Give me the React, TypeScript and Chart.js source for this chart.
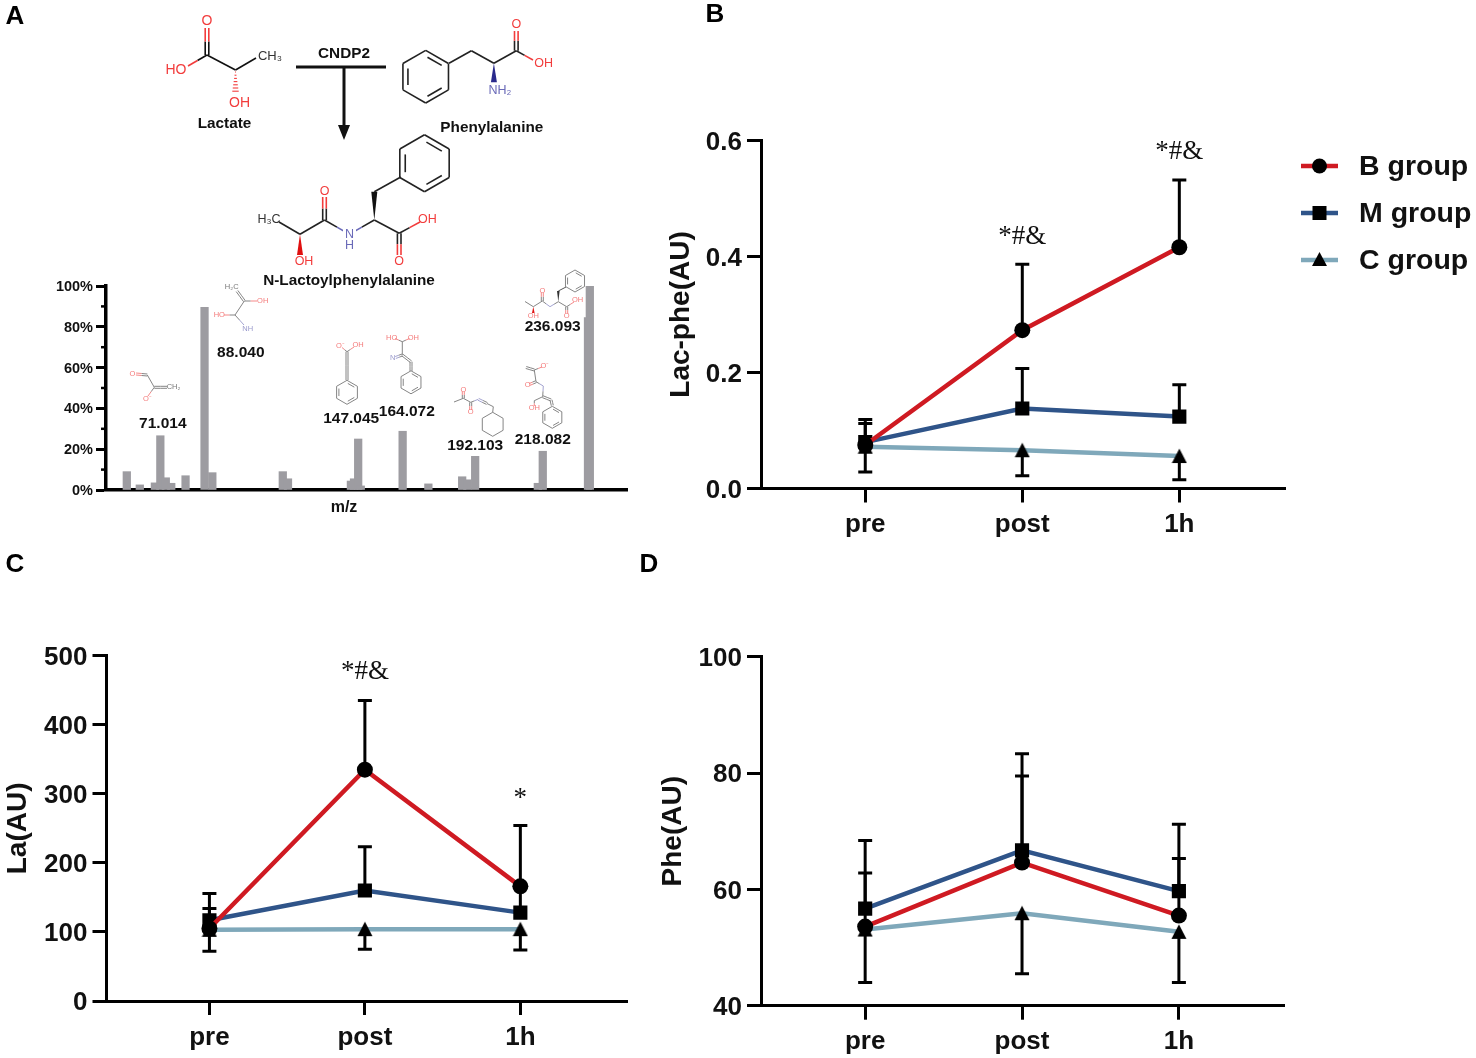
import React, { useEffect, useRef } from "react";
import { Chart, registerables } from "chart.js";

Chart.register(...registerables);

const SANS = '"Liberation Sans", Arial, sans-serif';
const SERIF = '"Liberation Serif", "Times New Roman", serif';

// ---- panel A data ----
const spectrumMz = [58.2, 63.2, 69.0, 71.1, 73.2, 75.3, 80.8, 88.1, 91.1, 118.2, 120.2, 144.4, 145.6, 147.2, 148.2, 164.3, 174.2, 187.2, 189.2, 192.2, 216.3, 218.2, 235.6, 236.3];
const spectrumPct = [9, 2.5, 3.5, 26.6, 6, 3.3, 7, 89.5, 8.5, 9, 5.5, 4.4, 5.5, 25, 2, 28.8, 3, 6.5, 5, 16.5, 3.3, 19, 84.5, 100];
const peakLabels = ["71.014", "88.040", "147.045", "164.072", "192.103", "218.082", "236.093"];
const peakLabelMz = [72.05, 102.05, 144.5, 165.9, 192.2, 218.2, 222.0];
const peakLabelPct = [32.5, 67.2, 34.8, 38.4, 21.7, 24.7, 79.9];

// ---- line panels data ----
const timepoints = ["pre", "post", "1h"];
const groupNames = ["B group", "M group", "C group"];
const groupColors = ["#cf1a22", "#2f5489", "#7fa8ba"];

const lacPheB = [0.075, 0.273, 0.416];
const lacPheM = [0.08, 0.138, 0.124];
const lacPheC = [0.072, 0.066, 0.056];
const lacPheBEnd = [0.119, 0.3865, 0.532];
const lacPheMEnd = [0.112, 0.207, 0.179];
const lacPheCEnd = [0.0285, 0.022, 0.015];

const laB = [105, 335, 166];
const laM = [117, 160, 128];
const laC = [103, 104, 104];
const laBEnd = [134, 435, 254];
const laMEnd = [155.5, 223.5, 166];
const laCEnd = [72, 75, 74];

const pheB = [53.6, 64.6, 55.5];
const pheM = [56.7, 66.7, 59.7];
const pheC = [53.1, 55.9, 52.7];
const pheBEnd = [62.8, 79.5, 65.3];
const pheMEnd = [68.4, 83.3, 71.2];
const pheCEnd = [44, 45.5, 44];

type Ctx = CanvasRenderingContext2D;
type P = [number, number];
const BLACK = "#111";
const RED = "#f23c3c";
const BLUE = "#6a6ab8";
const LABEL = `bold 15.3px ${SANS}`;

function seg(c: Ctx, a: P, b: P, color = BLACK, w = 1.6) {
  c.strokeStyle = color;
  c.lineWidth = w;
  c.beginPath();
  c.moveTo(a[0], a[1]);
  c.lineTo(b[0], b[1]);
  c.stroke();
}
function bi(c: Ctx, a: P, b: P, colA: string, colB: string, w = 1.6) {
  const m: P = [(a[0] + b[0]) / 2, (a[1] + b[1]) / 2];
  seg(c, a, m, colA, w);
  seg(c, m, b, colB, w);
}
function dbl(c: Ctx, a: P, b: P, colA: string, colB: string, w = 1.6, off = 1.8) {
  const dx = b[0] - a[0];
  const dy = b[1] - a[1];
  const l = Math.hypot(dx, dy) || 1;
  const nx = (-dy / l) * off;
  const ny = (dx / l) * off;
  bi(c, [a[0] + nx, a[1] + ny], [b[0] + nx, b[1] + ny], colA, colB, w);
  bi(c, [a[0] - nx, a[1] - ny], [b[0] - nx, b[1] - ny], colA, colB, w);
}
function txt(c: Ctx, s: string, x: number, y: number, color = BLACK, font = `13px ${SANS}`) {
  c.fillStyle = color;
  c.font = font;
  c.textAlign = "center";
  c.textBaseline = "middle";
  c.fillText(s, x, y);
}
function ring(c: Ctx, cx: number, cy: number, r: number, color = BLACK, w = 1.6, inner = 0.78) {
  const pts: P[] = [];
  for (let i = 0; i < 6; i++) {
    const a = -Math.PI / 2 + (i * Math.PI) / 3;
    pts.push([cx + r * Math.cos(a), cy + r * Math.sin(a)]);
  }
  for (let i = 0; i < 6; i++) seg(c, pts[i], pts[(i + 1) % 6], color, w);
  if (inner >= 1) return;
  [0, 2, 4].forEach((i) => {
    const a = pts[i];
    const b = pts[(i + 1) % 6];
    const sh = (p: P): P => [cx + (p[0] - cx) * inner, cy + (p[1] - cy) * inner];
    const s = sh(a);
    const e = sh(b);
    seg(c, [s[0] + (e[0] - s[0]) * 0.1, s[1] + (e[1] - s[1]) * 0.1], [e[0] - (e[0] - s[0]) * 0.1, e[1] - (e[1] - s[1]) * 0.1], color, w);
  });
}
function wedge(c: Ctx, a: P, b: P, color: string, half = 3) {
  const dx = b[0] - a[0];
  const dy = b[1] - a[1];
  const l = Math.hypot(dx, dy) || 1;
  const nx = (-dy / l) * half;
  const ny = (dx / l) * half;
  c.fillStyle = color;
  c.beginPath();
  c.moveTo(a[0], a[1]);
  c.lineTo(b[0] + nx, b[1] + ny);
  c.lineTo(b[0] - nx, b[1] - ny);
  c.closePath();
  c.fill();
}

function drawStructures(c: Ctx) {
  // Lactate
  dbl(c, [207, 55], [207, 28], BLACK, RED);
  bi(c, [207, 55], [188, 66], BLACK, RED);
  seg(c, [207, 55], [235.5, 70]);
  seg(c, [235.5, 70], [256, 58]);
  for (let i = 0; i < 7; i++) {
    const y = 72 + i * 3.2;
    const h = 0.5 + i * 0.45;
    seg(c, [235.5 - h, y], [235.5 + h, y], RED, 1.1);
  }
  txt(c, "O", 207, 21, RED, `14px ${SANS}`);
  txt(c, "HO", 176, 70, RED, `14px ${SANS}`);
  txt(c, "CH₃", 270, 56, "#333", `13px ${SANS}`);
  txt(c, "OH", 239.6, 103, RED, `14px ${SANS}`);
  txt(c, "Lactate", 224.5, 124, BLACK, LABEL);

  // Reaction arrow
  txt(c, "CNDP2", 344, 54, BLACK, LABEL);
  seg(c, [296, 67], [386, 67], BLACK, 3);
  seg(c, [344, 67], [344, 127], BLACK, 3);
  c.fillStyle = BLACK;
  c.beginPath();
  c.moveTo(338, 125);
  c.lineTo(350, 125);
  c.lineTo(344, 140);
  c.closePath();
  c.fill();

  // Phenylalanine
  ring(c, 425.7, 76.7, 26.3, "#222");
  seg(c, [449, 63.3], [471.4, 50.7], "#222");
  seg(c, [471.4, 50.7], [493.9, 63.3], "#222");
  seg(c, [493.9, 63.3], [516.3, 50.7], "#222");
  dbl(c, [516.3, 50.7], [516.3, 31], "#222", RED);
  bi(c, [516.3, 50.7], [533, 60], "#222", RED);
  wedge(c, [493.9, 63.3], [493.9, 82.3], "#2a2a8c", 3);
  txt(c, "O", 516.3, 25, RED, `12.5px ${SANS}`);
  txt(c, "OH", 543.7, 63.3, RED, `12.5px ${SANS}`);
  txt(c, "NH₂", 500, 91, BLUE, `12.5px ${SANS}`);
  txt(c, "Phenylalanine", 491.8, 128, BLACK, LABEL);

  // N-Lactoylphenylalanine
  ring(c, 424.5, 163.3, 28.5, "#222");
  seg(c, [400.8, 177], [374.3, 191.7], "#222");
  wedge(c, [374.3, 220], [374.3, 191.7], "#111", 3);
  bi(c, [374.3, 220], [349.4, 234.3], "#222", BLUE);
  bi(c, [349.4, 234.3], [324.5, 220], BLUE, "#222");
  seg(c, [374.3, 220], [399.2, 233.3], "#222");
  bi(c, [399.2, 233.3], [420, 222], "#222", RED);
  dbl(c, [399.2, 233.3], [399.2, 255], "#222", RED);
  dbl(c, [324.5, 220], [324.5, 197], "#222", RED);
  seg(c, [324.5, 220], [300, 234.3], "#222");
  seg(c, [300, 234.3], [279, 222], "#222");
  wedge(c, [300, 234.3], [300, 255], "#e01010", 3);
  c.fillStyle = "#fff";
  c.fillRect(343, 228, 13, 12);
  txt(c, "N", 349.4, 234.3, BLUE, `12.5px ${SANS}`);
  txt(c, "H", 349.4, 246, BLUE, `12.5px ${SANS}`);
  txt(c, "O", 324.5, 191.5, RED, `12.5px ${SANS}`);
  txt(c, "OH", 427.3, 220, RED, `12.5px ${SANS}`);
  txt(c, "O", 399.2, 261.5, RED, `12.5px ${SANS}`);
  txt(c, "OH", 304, 262, RED, `12.5px ${SANS}`);
  txt(c, "H₃C", 269, 220, "#333", `12.5px ${SANS}`);
  txt(c, "N-Lactoylphenylalanine", 349, 281, BLACK, LABEL);

  // Fragment sketches (faint)
  const G = "#777";
  const R = "#f47a7a";
  const B = "#9a9acc";
  const f = `7.5px ${SANS}`;
  const w = 0.9;
  c.save();
  // 71.014
  dbl(c, [136, 374], [147.3, 375], R, G, w, 1);
  seg(c, [147.3, 375], [154.3, 387.3], G, w);
  dbl(c, [154.3, 387.3], [167, 387.3], G, G, w, 1);
  bi(c, [154.3, 387.3], [148, 396], G, R, w);
  txt(c, "O", 132.3, 374, R, f);
  txt(c, "CH₂", 173.5, 387.3, G, f);
  txt(c, "O⁻", 147.3, 399, R, f);
  // 88.040
  dbl(c, [237, 291], [244.3, 301], G, G, w, 1);
  bi(c, [244.3, 301], [257, 301], G, R, w);
  seg(c, [244.3, 301], [235, 315], G, w);
  bi(c, [235, 315], [224, 315], G, R, w);
  bi(c, [235, 315], [244, 325], G, B, w);
  txt(c, "H₂C", 231.7, 287, G, f);
  txt(c, "OH", 262.7, 301, R, f);
  txt(c, "HO", 219.3, 315, R, f);
  txt(c, "NH", 247.7, 329.3, B, f);
  // 147.045
  bi(c, [347, 351.7], [342, 347.5], G, R, w);
  bi(c, [347, 351.7], [354, 347], G, R, w);
  dbl(c, [347, 351.7], [347, 380], G, G, w, 1);
  ring(c, 347, 392.3, 12, G, w);
  txt(c, "O⁻", 340.4, 346, R, f);
  txt(c, "OH", 358, 345, R, f);
  // 164.072
  bi(c, [402.3, 341.7], [395, 338.5], G, R, w);
  bi(c, [402.3, 341.7], [409.5, 338.5], G, R, w);
  seg(c, [402.3, 341.7], [402.3, 355], G, w);
  dbl(c, [402.3, 355], [395.5, 357.5], G, B, w, 1);
  dbl(c, [402.3, 355], [411, 361.7], G, G, w, 1);
  dbl(c, [411, 361.7], [411, 371], G, G, w, 1);
  ring(c, 411, 382.3, 11.5, G, w);
  txt(c, "HO", 391.7, 337.7, R, f);
  txt(c, "OH", 413.3, 337.7, R, f);
  txt(c, "N", 392.7, 358.3, B, f);
  // 192.103
  seg(c, [454, 402], [463.3, 398.3], G, w);
  dbl(c, [463.3, 398.3], [463.3, 391.5], G, R, w, 1);
  seg(c, [463.3, 398.3], [470.7, 402.3], G, w);
  dbl(c, [470.7, 402.3], [470.7, 410], G, R, w, 1);
  bi(c, [470.7, 402.3], [478.3, 399.3], G, B, w);
  dbl(c, [478.3, 399.3], [487, 403.5], B, G, w, 1);
  seg(c, [487, 403.5], [493.3, 406.7], G, w);
  seg(c, [493.3, 406.7], [492.7, 412.3], G, w);
  ring(c, 492.7, 424.3, 12, G, w, 1);
  txt(c, "O", 463.3, 390, R, f);
  txt(c, "O", 470.7, 411.7, R, f);
  // 218.082
  dbl(c, [526, 367.5], [534.3, 370], G, G, w, 1);
  bi(c, [534.3, 370], [542, 367], G, R, w);
  seg(c, [534.3, 370], [536, 381.7], G, w);
  dbl(c, [536, 381.7], [529.5, 384.5], G, R, w, 1);
  bi(c, [536, 381.7], [543.3, 386], G, B, w);
  bi(c, [543.3, 386], [542.7, 396.7], B, G, w);
  seg(c, [542.7, 396.7], [534.3, 400.7], G, w);
  bi(c, [534.3, 400.7], [534.3, 406], G, R, w);
  dbl(c, [542.7, 396.7], [551, 400], G, G, w, 1);
  dbl(c, [551, 400], [552.3, 405.5], G, G, w, 1);
  ring(c, 552.3, 417.3, 11, G, w);
  txt(c, "O⁻", 545, 366, R, f);
  txt(c, "O", 527.7, 385, R, f);
  txt(c, "OH", 534.3, 408.3, R, f);
  // 236.093
  ring(c, 575, 281, 11, G, w);
  seg(c, [566, 287], [558.3, 291], "#444", w);
  wedge(c, [558.3, 301.7], [558.3, 291], "#333", 1.3);
  seg(c, [558.3, 301.7], [566.7, 306.7], G, w);
  bi(c, [566.7, 306.7], [574, 302], G, R, w);
  dbl(c, [566.7, 306.7], [566.7, 313.5], G, R, w, 1);
  bi(c, [558.3, 301.7], [550, 306.7], G, B, w);
  bi(c, [550, 306.7], [542.3, 301], B, G, w);
  dbl(c, [542.3, 301], [542.3, 292.5], G, R, w, 1);
  seg(c, [542.3, 301], [533.3, 306.7], G, w);
  seg(c, [533.3, 306.7], [525, 301.5], G, w);
  wedge(c, [533.3, 306.7], [533.3, 313], "#e01010", 1.3);
  txt(c, "OH", 577.5, 300, R, f);
  txt(c, "O", 566.7, 315.5, R, f);
  txt(c, "O", 542.3, 290.5, R, f);
  txt(c, "OH", 533.3, 315.5, R, f);
  c.restore();
}

interface Box {
  left: number;
  top: number;
  width: number;
  height: number;
  plotLeft: number;
  plotRight: number;
  plotTop: number;
  plotBottom: number;
}

const boxA: Box = { left: 0, top: 0, width: 640, height: 525, plotLeft: 106, plotRight: 627, plotTop: 286, plotBottom: 490 };
const boxB: Box = { left: 640, top: 0, width: 836, height: 545, plotLeft: 761, plotRight: 1285, plotTop: 140.5, plotBottom: 488.5 };
const boxC: Box = { left: 0, top: 545, width: 640, height: 513, plotLeft: 106.5, plotRight: 627, plotTop: 655.7, plotBottom: 1001 };
const boxD: Box = { left: 640, top: 545, width: 836, height: 513, plotLeft: 761, plotRight: 1284, plotTop: 656.7, plotBottom: 1005.7 };

function triangleMarker() {
  const size = 16;
  const cv = document.createElement("canvas");
  cv.width = size;
  cv.height = size;
  const c = cv.getContext("2d") as Ctx;
  c.fillStyle = "#000";
  c.beginPath();
  c.moveTo(size / 2, 0.5);
  c.lineTo(size - 0.5, size - 1);
  c.lineTo(0.5, size - 1);
  c.closePath();
  c.fill();
  return cv;
}

function pagePlugin(box: Box, draw: (c: Ctx, chart: any) => void) {
  return {
    id: "page",
    afterDraw(chart: any) {
      const c: Ctx = chart.ctx;
      c.save();
      c.translate(-box.left, -box.top);
      draw(c, chart);
      c.restore();
    },
  };
}

const errorBars = (ends: number[][]) => ({
  id: "errorBars",
  beforeDatasetsDraw(chart: any) {
    const c: Ctx = chart.ctx;
    const xs = chart.scales.x;
    const ys = chart.scales.y;
    c.save();
    c.strokeStyle = "#000";
    c.lineWidth = 3;
    chart.data.datasets.forEach((ds: any, i: number) => {
      ds.data.forEach((pt: any, j: number) => {
        const x = xs.getPixelForValue(pt.x);
        const y0 = ys.getPixelForValue(pt.y);
        const y1 = ys.getPixelForValue(ends[i][j]);
        c.beginPath();
        c.moveTo(x, y0);
        c.lineTo(x, y1);
        c.moveTo(x - 7, y1);
        c.lineTo(x + 7, y1);
        c.stroke();
      });
    });
    c.restore();
  },
});

const sigMarks = (marks: { text: string; at: number; value: number }[]) => ({
  id: "sigMarks",
  afterDraw(chart: any) {
    const c: Ctx = chart.ctx;
    marks.forEach((m) => {
      txt(c, m.text, chart.scales.x.getPixelForValue(m.at), chart.scales.y.getPixelForValue(m.value), "#111", `27px ${SERIF}`);
    });
  },
});

function drawLegend(c: Ctx, chart: any) {
  const rows = [166, 213, 260];
  chart.data.datasets.forEach((ds: any, i: number) => {
    const y = rows[i];
    seg(c, [1301, y], [1338, y], ds.borderColor, 4.5);
    c.fillStyle = "#000";
    const cx = 1319.5;
    if (i === 0) {
      c.beginPath();
      c.arc(cx, y, 7.5, 0, Math.PI * 2);
      c.fill();
    } else if (i === 1) {
      c.fillRect(cx - 7, y - 7, 14, 14);
    } else {
      c.beginPath();
      c.moveTo(cx, y - 8);
      c.lineTo(cx + 7.5, y + 6);
      c.lineTo(cx - 7.5, y + 6);
      c.closePath();
      c.fill();
    }
    c.fillStyle = "#111";
    c.font = `bold 28.5px ${SANS}`;
    c.textAlign = "left";
    c.textBaseline = "middle";
    c.fillText(ds.label, 1359, y + 1);
  });
}

function lineChart(
  canvas: HTMLCanvasElement,
  box: Box,
  values: number[][],
  ends: number[][],
  xRange: [number, number],
  yRange: [number, number],
  yStep: number,
  yDecimals: number,
  title: string,
  titlePad: number,
  letter: string,
  letterPos: P,
  marks: { text: string; at: number; value: number }[],
  withLegend: boolean
) {
  const markers: any[] = ["circle", "rect", triangleMarker()];
  return new Chart(canvas, {
    type: "line",
    data: {
      datasets: values.map((v, i) => ({
        label: groupNames[i],
        data: v.map((y, j) => ({ x: j, y })),
        borderColor: groupColors[i],
        borderWidth: 4.5,
        tension: 0,
        fill: false,
        pointStyle: markers[i],
        pointRadius: i === 0 ? 8 : i === 1 ? 10 : 8,
        pointBackgroundColor: "#000",
        pointBorderColor: "#000",
        pointBorderWidth: 0,
      })),
    },
    options: {
      responsive: false,
      animation: false,
      devicePixelRatio: 1,
      layout: {
        padding: { left: 0, top: box.plotTop - box.top, right: box.left + box.width - box.plotRight, bottom: 0 },
      },
      plugins: { legend: { display: false }, tooltip: { enabled: false }, title: { display: false } },
      scales: {
        x: {
          type: "linear",
          min: xRange[0],
          max: xRange[1],
          afterFit: (s: any) => {
            s.height = box.top + box.height - box.plotBottom;
          },
          afterBuildTicks: (s: any) => {
            s.ticks = timepoints.map((_, i) => ({ value: i }));
          },
          border: { display: true, color: "#000", width: 3 },
          grid: { drawOnChartArea: false, drawTicks: true, tickLength: 14, tickWidth: 3, tickColor: "#000" },
          ticks: {
            color: "#111",
            padding: 7,
            font: { family: SANS, size: 26, weight: "bold" },
            maxRotation: 0,
            autoSkip: false,
            callback: (v: any) => timepoints[v],
          },
        },
        y: {
          min: yRange[0],
          max: yRange[1],
          afterFit: (s: any) => {
            s.width = box.plotLeft - box.left;
          },
          border: { display: true, color: "#000", width: 3 },
          grid: { drawOnChartArea: false, drawTicks: true, tickLength: 14, tickWidth: 3, tickColor: "#000" },
          ticks: {
            stepSize: yStep,
            color: "#111",
            padding: 5,
            labelOffset: 2,
            font: { family: SANS, size: 26, weight: "bold" },
            callback: (v: any) => Number(v).toFixed(yDecimals),
          },
          title: {
            display: true,
            text: title,
            color: "#111",
            padding: { top: titlePad, bottom: 0 },
            font: { family: SANS, size: 28, weight: "bold" },
          },
        },
      },
    } as any,
    plugins: [
      errorBars(ends),
      sigMarks(marks),
      pagePlugin(box, (c, chart) => {
        txt(c, letter, letterPos[0], letterPos[1], "#000", `bold 26px ${SANS}`);
        if (withLegend) drawLegend(c, chart);
      }),
    ] as any,
  });
}

function spectrumChart(canvas: HTMLCanvasElement, box: Box) {
  return new Chart(canvas, {
    type: "bar",
    data: {
      datasets: [
        {
          data: spectrumMz.map((x, i) => ({ x, y: spectrumPct[i] })),
          backgroundColor: "#9d9ca1",
          barThickness: 7.6,
        },
      ],
    },
    options: {
      responsive: false,
      animation: false,
      devicePixelRatio: 1,
      layout: { padding: { left: 0, top: box.plotTop - box.top, right: box.width - box.plotRight, bottom: 0 } },
      plugins: { legend: { display: false }, tooltip: { enabled: false }, title: { display: false } },
      scales: {
        x: {
          type: "linear",
          offset: false,
          min: 50.2,
          max: 250.6,
          afterFit: (s: any) => {
            s.height = box.height - box.plotBottom;
          },
          border: { display: true, color: "#000", width: 3.5 },
          grid: { display: false },
          ticks: { display: false },
        },
        y: {
          min: 0,
          max: 100,
          afterFit: (s: any) => {
            s.width = box.plotLeft;
          },
          border: { display: true, color: "#000", width: 3.5 },
          grid: { drawOnChartArea: false, drawTicks: true, tickLength: 10, tickWidth: 3, tickColor: "#000" },
          ticks: {
            stepSize: 20,
            color: "#111",
            padding: 3,
            labelOffset: 1,
            font: { family: SANS, size: 14.5, weight: "bold" },
            callback: (v: any) => `${v}%`,
          },
        },
      },
    } as any,
    plugins: [
      {
        id: "minorTicks",
        afterDraw(chart: any) {
          const ys = chart.scales.y;
          const c: Ctx = chart.ctx;
          ys.ticks.forEach((t: any, i: number) => {
            if (i === ys.ticks.length - 1) return;
            const y = ys.getPixelForValue(t.value + 10);
            seg(c, [chart.chartArea.left - 5, y], [chart.chartArea.left, y], "#000", 2.5);
          });
        },
      },
      {
        id: "peakLabels",
        afterDraw(chart: any) {
          peakLabels.forEach((s, i) => {
            txt(chart.ctx, s, chart.scales.x.getPixelForValue(peakLabelMz[i]), chart.scales.y.getPixelForValue(peakLabelPct[i]), "#111", `bold 15.5px ${SANS}`);
          });
        },
      },
      pagePlugin(box, (c) => {
        txt(c, "A", 15, 17, "#000", `bold 26px ${SANS}`);
        txt(c, "m/z", 344, 508, "#111", `bold 16px ${SANS}`);
        drawStructures(c);
      }),
    ] as any,
  });
}

function Panel({ box, make }: { box: Box; make: (c: HTMLCanvasElement, b: Box) => Chart }) {
  const ref = useRef<HTMLCanvasElement>(null);
  useEffect(() => {
    const chart = make(ref.current as HTMLCanvasElement, box);
    return () => chart.destroy();
  }, []);
  return <canvas ref={ref} width={box.width} height={box.height} style={{ position: "absolute", left: box.left, top: box.top, width: box.width, height: box.height }} />;
}

export default function App() {
  return (
    <div style={{ position: "absolute", left: 0, top: 0, width: 1476, height: 1058, background: "#fff", overflow: "hidden", filter: "blur(0.35px)" }}>
      <Panel box={boxA} make={spectrumChart} />
      <Panel
        box={boxB}
        make={(c, b) =>
          lineChart(c, b, [lacPheB, lacPheM, lacPheC], [lacPheBEnd, lacPheMEnd, lacPheCEnd], [-0.664, 2.673], [0, 0.6], 0.2, 1, "Lac-phe(AU)", 24, "B", [715, 15],
            [{ text: "*#&", at: 1, value: 0.4335 }, { text: "*#&", at: 2, value: 0.58 }], true)
        }
      />
      <Panel
        box={boxC}
        make={(c, b) =>
          lineChart(c, b, [laB, laM, laC], [laBEnd, laMEnd, laCEnd], [-0.662, 2.686], [0, 500], 100, 0, "La(AU)", 1, "C", [15, 565],
            [{ text: "*#&", at: 1, value: 476 }, { text: "*", at: 2, value: 293 }], false)
        }
      />
      <Panel
        box={boxD}
        make={(c, b) =>
          lineChart(c, b, [pheB, pheM, pheC], [pheBEnd, pheMEnd, pheCEnd], [-0.664, 2.67], [40, 100], 20, 0, "Phe(AU)", 16, "D", [649, 565], [], false)
        }
      />
    </div>
  );
}
